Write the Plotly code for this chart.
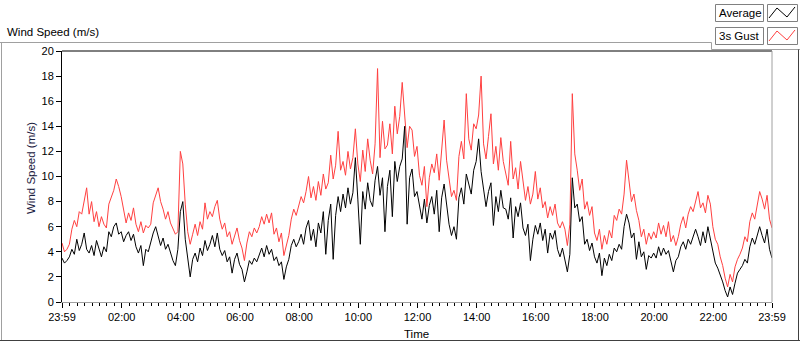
import pandas as pd
import plotly.graph_objects as go

# ---- data: 5-minute readings from 23:59 to 23:59 next day (m/s) ----
gust = [
    4.7, 4.0, 4.2, 4.6, 5.8, 6.5, 6.0, 7.2, 7.0, 8.2, 9.1, 7.0,
    8.0, 6.4, 7.2, 6.0, 6.8, 6.2, 5.9, 7.8, 8.4, 8.9, 9.8, 9.2,
    8.4, 7.2, 6.3, 7.1, 6.5, 7.5, 6.2, 5.6, 6.4, 5.5, 6.1, 5.9,
    6.2, 7.9, 8.5, 9.1, 8.0, 7.4, 6.6, 7.2, 6.3, 5.9, 5.4, 5.6,
    12.0, 11.0, 7.8, 5.6, 4.6, 5.4, 6.2, 5.3, 6.4, 5.8, 7.9, 6.6,
    7.2, 6.8, 7.6, 8.1, 6.6, 5.8, 6.3, 5.2, 5.6, 4.6, 5.3, 5.9,
    4.9, 4.3, 3.3, 4.7, 5.6, 5.2, 5.9, 5.5, 6.0, 6.8, 6.2, 7.0,
    6.3, 7.1, 5.4, 5.9, 4.8, 5.5, 3.7, 4.6, 5.3, 6.6, 7.4, 6.9,
    7.6, 8.4, 7.9, 8.8, 10.0, 8.3, 9.2, 8.1, 9.6, 8.5, 10.2, 9.0,
    9.5, 11.7, 9.8, 10.9, 13.6, 10.5, 11.2, 10.1, 12.0, 10.6, 11.5, 13.8,
    11.0, 9.6, 12.1, 10.4, 13.0, 11.3, 10.2, 12.6, 18.6, 11.5, 14.4, 12.2,
    12.5, 14.2, 11.8, 15.6, 13.4, 14.8, 17.5, 15.2, 12.3, 14.0, 13.7, 11.6,
    12.4, 10.1, 9.3, 10.8, 7.6, 9.9, 11.0, 10.3, 11.8, 9.7, 12.2, 14.5,
    11.3, 9.8, 8.4, 8.9, 8.1, 11.6, 12.8, 11.4, 16.6, 13.0, 12.1, 14.2,
    13.8, 14.9, 18.0, 12.6, 11.4, 13.2, 15.0, 11.0, 12.4, 10.5, 13.1, 11.2,
    10.2, 9.3, 12.8, 9.8, 10.7, 9.0, 11.2, 9.5, 8.1, 9.2, 7.8, 8.6,
    10.4, 8.2, 9.1, 7.5, 8.0, 6.7, 7.6, 6.9, 7.8, 6.3, 5.9, 6.4,
    5.8, 4.5, 6.2, 16.6, 11.8, 10.5, 8.9, 9.8, 7.4, 8.0, 6.9, 7.6,
    5.5, 4.9, 5.8, 4.2, 5.3, 4.6, 5.7, 5.1, 6.9, 6.5, 7.4, 7.0,
    8.6, 11.3, 9.4, 8.0, 8.6, 7.3, 6.5, 5.2, 5.8, 4.6, 5.5, 5.0,
    5.6, 5.1, 6.3, 5.4, 6.1, 5.2, 6.4, 4.8, 5.3, 4.5, 5.2, 6.2,
    6.8, 5.9, 7.0, 7.6, 7.2, 8.1, 8.8, 7.5, 7.9, 7.1, 8.5, 7.8,
    6.0, 5.0, 4.6, 3.6, 2.9, 1.9, 1.2, 2.2, 1.6, 2.8, 3.4, 3.8,
    4.3, 5.2, 4.8, 6.4, 7.1, 6.6, 7.8, 8.8, 8.2, 7.4, 8.5, 6.6,
    5.9,
]
average = [
    3.5, 3.1, 3.3, 3.6, 4.2, 3.8, 5.0, 4.1, 4.6, 5.5, 4.2, 3.9,
    4.5, 3.7, 4.9, 4.2, 3.6, 4.4, 4.0, 5.6, 5.2, 6.0, 6.3, 5.4,
    5.6, 4.8, 5.3, 5.6, 4.9, 5.4, 4.4, 3.9, 4.5, 2.9, 4.2, 4.0,
    4.8, 5.5, 6.0, 5.2, 4.5, 5.1, 4.2, 4.6, 3.9, 3.3, 2.9, 4.2,
    7.2, 8.0, 5.0, 3.6, 2.0, 3.4, 3.9, 3.2, 4.3, 3.7, 4.9, 4.1,
    4.6, 5.3, 4.4, 5.5, 4.2, 3.7, 4.1, 3.2, 3.6, 2.3, 3.4, 3.9,
    3.0, 2.6, 1.6, 2.4, 3.3, 3.0, 3.5, 3.2, 3.7, 4.3, 3.6, 4.5,
    3.8, 4.2, 3.3, 3.6, 2.9, 3.2, 1.8, 2.8, 3.4, 4.5, 5.0, 4.4,
    4.8, 5.4, 4.6, 5.9, 6.5, 4.9, 5.8, 4.4, 6.3, 5.5, 7.2, 3.8,
    6.5, 7.8, 3.4, 6.9, 8.4, 7.2, 8.6, 7.5, 9.1, 7.8, 8.7, 11.5,
    8.2, 4.6, 8.8, 7.4, 9.5, 8.1, 7.6, 9.7, 10.8, 8.5, 9.9, 5.6,
    9.2, 10.5, 6.8, 11.2, 9.6, 10.8, 11.4, 14.0, 6.2, 9.9, 10.6, 8.4,
    8.8, 7.5, 6.6, 8.2, 6.3, 7.7, 8.4, 7.0, 8.9, 5.6, 8.3, 9.4,
    8.0, 6.2, 5.3, 6.0, 5.0, 8.3, 9.1, 7.8, 10.2, 9.4, 8.6, 10.5,
    11.2, 13.0, 10.4, 9.0, 7.6, 8.8, 9.5, 6.1, 8.4, 7.2, 8.9, 7.5,
    7.4, 6.6, 8.3, 5.1, 7.6, 6.8, 7.9, 5.9, 5.3, 6.2, 3.3, 5.0,
    6.1, 5.4, 6.3, 4.9, 5.8, 3.9, 5.5, 5.0, 5.7, 4.2, 3.6, 4.3,
    3.4, 2.4, 3.8, 9.9, 7.5, 7.8, 6.4, 6.8, 4.6, 5.0, 4.1, 4.7,
    3.6, 3.1, 3.9, 2.1, 3.5, 2.9, 3.8, 3.3, 4.3, 4.0, 4.6, 4.2,
    6.0, 7.0, 6.3, 5.1, 5.5, 3.4, 4.8, 3.6, 4.0, 2.6, 3.7, 3.5,
    3.9, 3.5, 4.4, 3.7, 4.3, 3.8, 4.1, 3.1, 2.4, 3.3, 3.6, 4.4,
    4.8, 4.2, 5.0, 4.6, 5.3, 5.8, 5.2, 4.5, 5.6, 4.7, 6.0, 5.1,
    4.0, 3.1, 2.7, 2.2, 1.6, 0.9, 0.4, 1.2, 0.6, 1.5, 2.3, 2.6,
    2.9, 3.4, 3.1, 4.4, 5.1, 4.6, 5.4, 6.0, 5.3, 4.7, 5.8, 4.2,
    3.5,
]
tick_labels = ["23:59", "02:00", "04:00", "06:00", "08:00", "10:00", "12:00",
               "14:00", "16:00", "18:00", "20:00", "22:00", "23:59"]
series_names = ["Average", "3s Gust"]
series_colors = ["#000000", "#ff4040"]

start = pd.Timestamp("2021-01-01 23:59")
end = pd.Timestamp("2021-01-02 23:59")
times = pd.date_range(start, end, periods=len(gust))
day2 = pd.Timestamp("2021-01-02 00:00")
tick_vals = [start] + [day2 + pd.Timedelta(hours=h) for h in range(2, 24, 2)] + [end]
minor_vals = list(pd.date_range(day2, end, freq="15min"))

# ---- figure geometry (pixels) ----
W, H = 800, 342
L, R, T, B = 62, 28, 51, 40
PW, PH = W - L - R, H - T - B


def px(x):
    return (x - L) / PW


def py(y):
    return (H - B - y) / PH


fig = go.Figure()
fig.add_trace(go.Scatter(x=times, y=gust, mode="lines", name=series_names[1],
                         line=dict(color=series_colors[1], width=1)))
fig.add_trace(go.Scatter(x=times, y=average, mode="lines", name=series_names[0],
                         line=dict(color=series_colors[0], width=1)))

FONT = "Liberation Sans"
shapes = []
GRAY = "#a0a0a0"


def line(x0, y0, x1, y1, color, width=1):
    shapes.append(dict(type="line", xref="paper", yref="paper",
                       x0=px(x0), y0=py(y0), x1=px(x1), y1=py(y1),
                       line=dict(color=color, width=width)))


# plot frame (top/left dark, right/bottom gray)
shapes.append(dict(type="line", xref="paper", yref="paper", x0=0, x1=1, y0=1, y1=1,
                   line=dict(color="black", width=1)))
shapes.append(dict(type="line", xref="paper", yref="paper", x0=1, x1=1, y0=0, y1=1,
                   line=dict(color=GRAY, width=1)))
# outer panel frame
line(0, 42.5, 711.5, 42.5, GRAY)
line(711.5, 42.5, 711.5, 49.5, GRAY)
line(711.5, 49.5, 800, 49.5, GRAY)
line(1.5, 42.5, 1.5, 341, GRAY)
line(798.5, 49.5, 798.5, 341, "#404040")
line(0, 340.5, 800, 340.5, "#404040")

annotations = []
# legend boxes
for i, (name, color) in enumerate(zip(series_names, series_colors)):
    y0 = 4 + 23 * i
    y1 = y0 + 17
    shapes.append(dict(type="rect", xref="paper", yref="paper",
                       x0=px(715.5), x1=px(763.5), y0=py(y1 + 0.5), y1=py(y0 + 0.5),
                       line=dict(color="#808080", width=1), fillcolor="white"))
    shapes.append(dict(type="rect", xref="paper", yref="paper",
                       x0=px(767.5), x1=px(797.5), y0=py(y1 + 0.5), y1=py(y0 + 0.5),
                       line=dict(color="#808080", width=1), fillcolor="white"))
    pts = [(769, y0 + 14), (777, y0 + 4), (787, y0 + 13), (795, y0 + 3)]
    path = "M " + " L ".join(f"{px(a):.5f},{py(b):.5f}" for a, b in pts)
    shapes.append(dict(type="path", xref="paper", yref="paper", path=path,
                       line=dict(color=color, width=1)))
    annotations.append(dict(text=name, xref="paper", yref="paper",
                            x=px(717), y=py(y0 + 9), xanchor="left", yanchor="middle",
                            showarrow=False, font=dict(family=FONT, size=11.5, color="black")))

annotations.append(dict(text="Wind Speed (m/s)", xref="paper", yref="paper",
                        x=px(5), y=py(32), xanchor="left", yanchor="middle",
                        showarrow=False, font=dict(family=FONT, size=11.5, color="black")))
annotations.append(dict(text="Wind Speed (m/s)", xref="paper", yref="paper",
                        x=px(31), y=py(168), xanchor="center", yanchor="middle",
                        textangle=-90, showarrow=False,
                        font=dict(family=FONT, size=11.5, color="#1a2040")))
annotations.append(dict(text="Time", xref="paper", yref="paper",
                        x=px(416), y=py(334), xanchor="center", yanchor="middle",
                        showarrow=False, font=dict(family=FONT, size=11.5, color="black")))

fig.update_layout(
    width=W, height=H,
    margin=dict(l=L, r=R, t=T, b=B),
    paper_bgcolor="white", plot_bgcolor="white",
    showlegend=False,
    shapes=shapes, annotations=annotations,
    font=dict(family=FONT, size=11, color="black"),
    xaxis=dict(type="date", range=[start, end], tickmode="array",
               tickvals=tick_vals, ticktext=tick_labels,
               ticks="outside", ticklen=5, tickcolor="black", tickwidth=1,
               showgrid=False, zeroline=False, showline=True, linecolor=GRAY,
               minor=dict(tickmode="array", tickvals=minor_vals, ticks="outside",
                          ticklen=3, tickcolor="black", showgrid=False),
               tickfont=dict(family=FONT, size=11, color="black")),
    yaxis=dict(range=[0, 20], tickmode="linear", tick0=0, dtick=2,
               ticks="outside", ticklen=5, tickcolor="black",
               showgrid=False, zeroline=False, showline=True, linecolor="black",
               tickfont=dict(family=FONT, size=11, color="black")),
)

fig.write_html("out.html",
               config={"displayModeBar": False},
               post_script="document.body.style.margin='0';document.body.style.padding='0';")
